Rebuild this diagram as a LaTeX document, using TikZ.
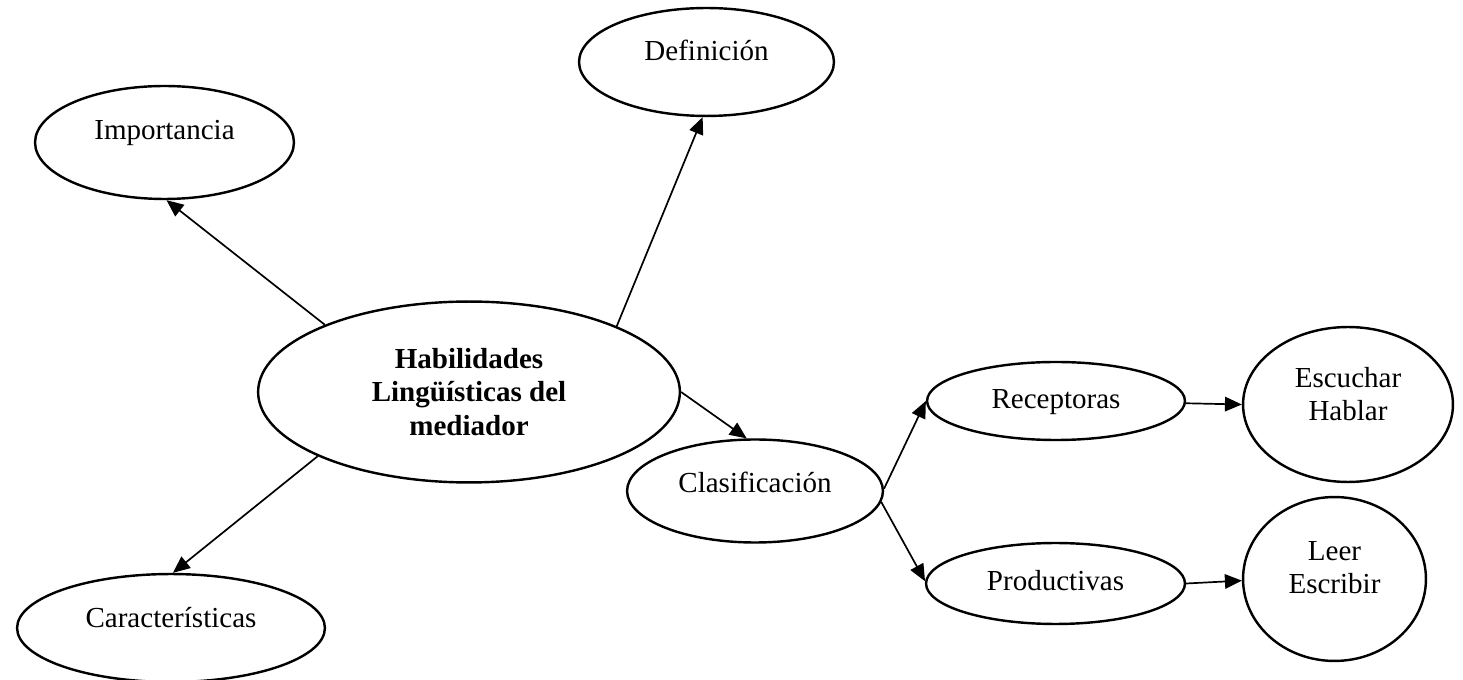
\documentclass[tikz,border=0pt]{standalone}
\usepackage{fontspec}
\setmainfont{Liberation Serif}
\usetikzlibrary{shapes.geometric, arrows.meta}

\begin{document}
\begin{tikzpicture}[x=0.01452cm, y=-0.01452cm,
        oval/.style={ellipse, draw, line width=1pt, inner sep=0pt, align=center,
            font=\fontsize{12pt}{13.8pt}\selectfont},
        lift/.style={text height=8pt, text depth=#1},
        twolift/.style={text height=21.8pt, text depth=#1},
        link/.style={line width=0.7pt, -{Triangle[length=7pt, width=6pt]}}]
            \useasboundingbox (0,0) rectangle (1463,680);

            % Central node
            \node[oval, minimum width=6.127cm, minimum height=2.628cm] (hab) at (469,392)
                {\bfseries Habilidades\\\bfseries Lingüísticas del\\\bfseries mediador};

            % Outer nodes
            \node[oval, lift=10.6pt, minimum width=3.761cm, minimum height=1.641cm] (imp) at (164.5,142.5) {Importancia};
            \node[oval, lift=9.4pt, minimum width=3.703cm, minimum height=1.568cm] (def) at (706.5,62) {Definición};
            \node[oval, lift=8.6pt, minimum width=4.472cm, minimum height=1.568cm] (car) at (171,628) {Características};
            \node[oval, lift=7pt, minimum width=3.717cm, minimum height=1.496cm] (clas) at (755,491) {Clasificación};

            % Classification branch
            \node[oval, lift=2pt, minimum width=3.746cm, minimum height=1.133cm] (rec) at (1056,401) {Receptoras};
            \node[oval, lift=2pt, minimum width=3.761cm, minimum height=1.176cm] (prod) at (1055.5,583.5) {Productivas};
            \node[oval, twolift=8.6pt, minimum width=3.049cm, minimum height=2.251cm] (esc) at (1348,404.5) {Escuchar\\Hablar};
            \node[oval, twolift=9.8pt, minimum width=2.657cm, minimum height=2.381cm] (leer) at (1334.5,579) {Leer\\Escribir};

            % Arrows
            \draw[link] (hab.155.8) -- (imp.272);
            \draw[link] (hab.24.2) -- (def.266);
            \draw[link] (hab.203.2) -- (car.88);
            \draw[link] (hab.0) -- (clas.99);
            \draw[link] (clas.1.3) -- (rec.180);
            \draw[link] (clas.-5) -- (prod.179);
            \draw[link] (rec.-1) -- (esc.180);
            \draw[link] (prod.0) -- (leer.181);
        \end{tikzpicture}
\end{document}
